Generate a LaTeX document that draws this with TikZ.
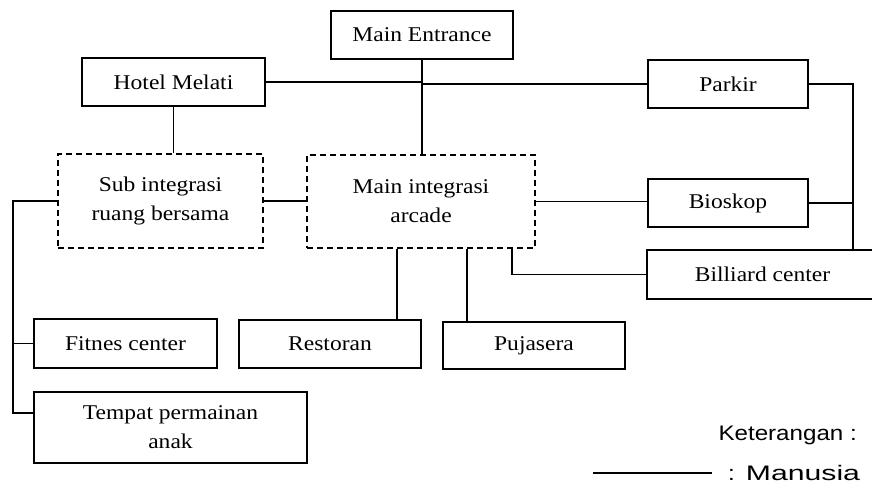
\documentclass[tikz,border=0pt]{standalone}
\usepackage{fontspec}
\setmainfont{Liberation Serif}[FakeStretch=1.12]
\newfontfamily\legendfont{Liberation Sans}[FakeStretch=1.15]
\begin{document}
\begin{tikzpicture}[x=1pt,y=-1pt,
  every node/.style={font=\fontsize{21}{29}\selectfont, inner sep=0pt, align=center},
  box/.style={draw, line width=1.8pt},
  dbox/.style={draw, line width=1.5pt, dash pattern=on 6pt off 4pt},
  conn/.style={line width=1.8pt},
  legtext/.style={font=\legendfont\fontsize{21}{24}\selectfont}]
\useasboundingbox (0,0) rectangle (872,486);
\clip (0,0) rectangle (872,486);
% boxes
\node[box, minimum width=182pt, minimum height=48pt] (ME) at (422,35) {Main Entrance};
\node[box, minimum width=183pt, minimum height=48pt] (HM) at (173.5,82) {Hotel Melati};
\node[box, minimum width=160pt, minimum height=48pt] (PK) at (728,84) {Parkir};
\node[box, minimum width=160pt, minimum height=48pt] (BK) at (728,203) {Bioskop};
\node[box, minimum width=231pt, minimum height=49pt] (BC) at (762.5,274.5) {Billiard center};
\node[dbox, minimum width=205pt, minimum height=94pt] (SI) at (160.5,201) {Sub integrasi\\ruang bersama};
\node[dbox, minimum width=228pt, minimum height=93pt] (MI) at (421,201.5) {Main integrasi\\arcade};
\node[box, minimum width=183pt, minimum height=49pt] (FC) at (125.5,343.5) {Fitnes center};
\node[box, minimum width=182pt, minimum height=48pt] (RS) at (330,344) {Restoran};
\node[box, minimum width=182pt, minimum height=47pt] (PJ) at (534,345.5) {Pujasera};
\node[box, minimum width=273pt, minimum height=71pt] (TP) at (170.5,427.5) {Tempat permainan\\anak};
% helper coordinates
\coordinate (RJ) at (853,0);
\coordinate (LJ) at (13,0);
\coordinate (TPin) at ([yshift=14.5pt]TP.west);
\coordinate (MIb) at ([xshift=91pt]MI.south);
\coordinate (RSt) at ([xshift=67pt]RS.north);
\coordinate (PJt) at ([xshift=-67pt]PJ.north);
% connectors
\draw[conn] (HM.east) -- (ME.south |- HM.east);
\draw[conn] (ME.south |- PK.west) -- (PK.west);
\draw[conn] (ME.south) -- (ME.south |- MI.north);
\draw[conn] (HM.south) -- (HM.south |- SI.north);
\draw[conn] (SI.east) -- (SI.east -| MI.west);
\draw[conn] (MI.east) -- (MI.east -| BK.west);
\draw[conn] (PK.east) -| (RJ |- BC.north);
\draw[conn] (BK.east) -- (RJ |- BK.east);
\draw[conn] (MIb) |- (BC.west);
\draw[conn] (RSt) -- (RSt |- MI.south);
\draw[conn] (PJt) -- (PJt |- MI.south);
\draw[conn] (SI.west) -| (TPin -| LJ) -- (TPin);
\draw[conn] (FC.west -| LJ) -- (FC.west);
% legend
\node[legtext, anchor=base east] (KT) at (857,440) {Keterangan :};
\node[legtext, anchor=base west] (MN) at (728,480) {:\hspace{11pt}\scalebox{1.25}[1]{Manusia}};
\coordinate (LA) at (593,473);
\coordinate (LB) at (712,473);
\draw[line width=1.2pt] (LA) -- (LB);
\end{tikzpicture}
\end{document}
